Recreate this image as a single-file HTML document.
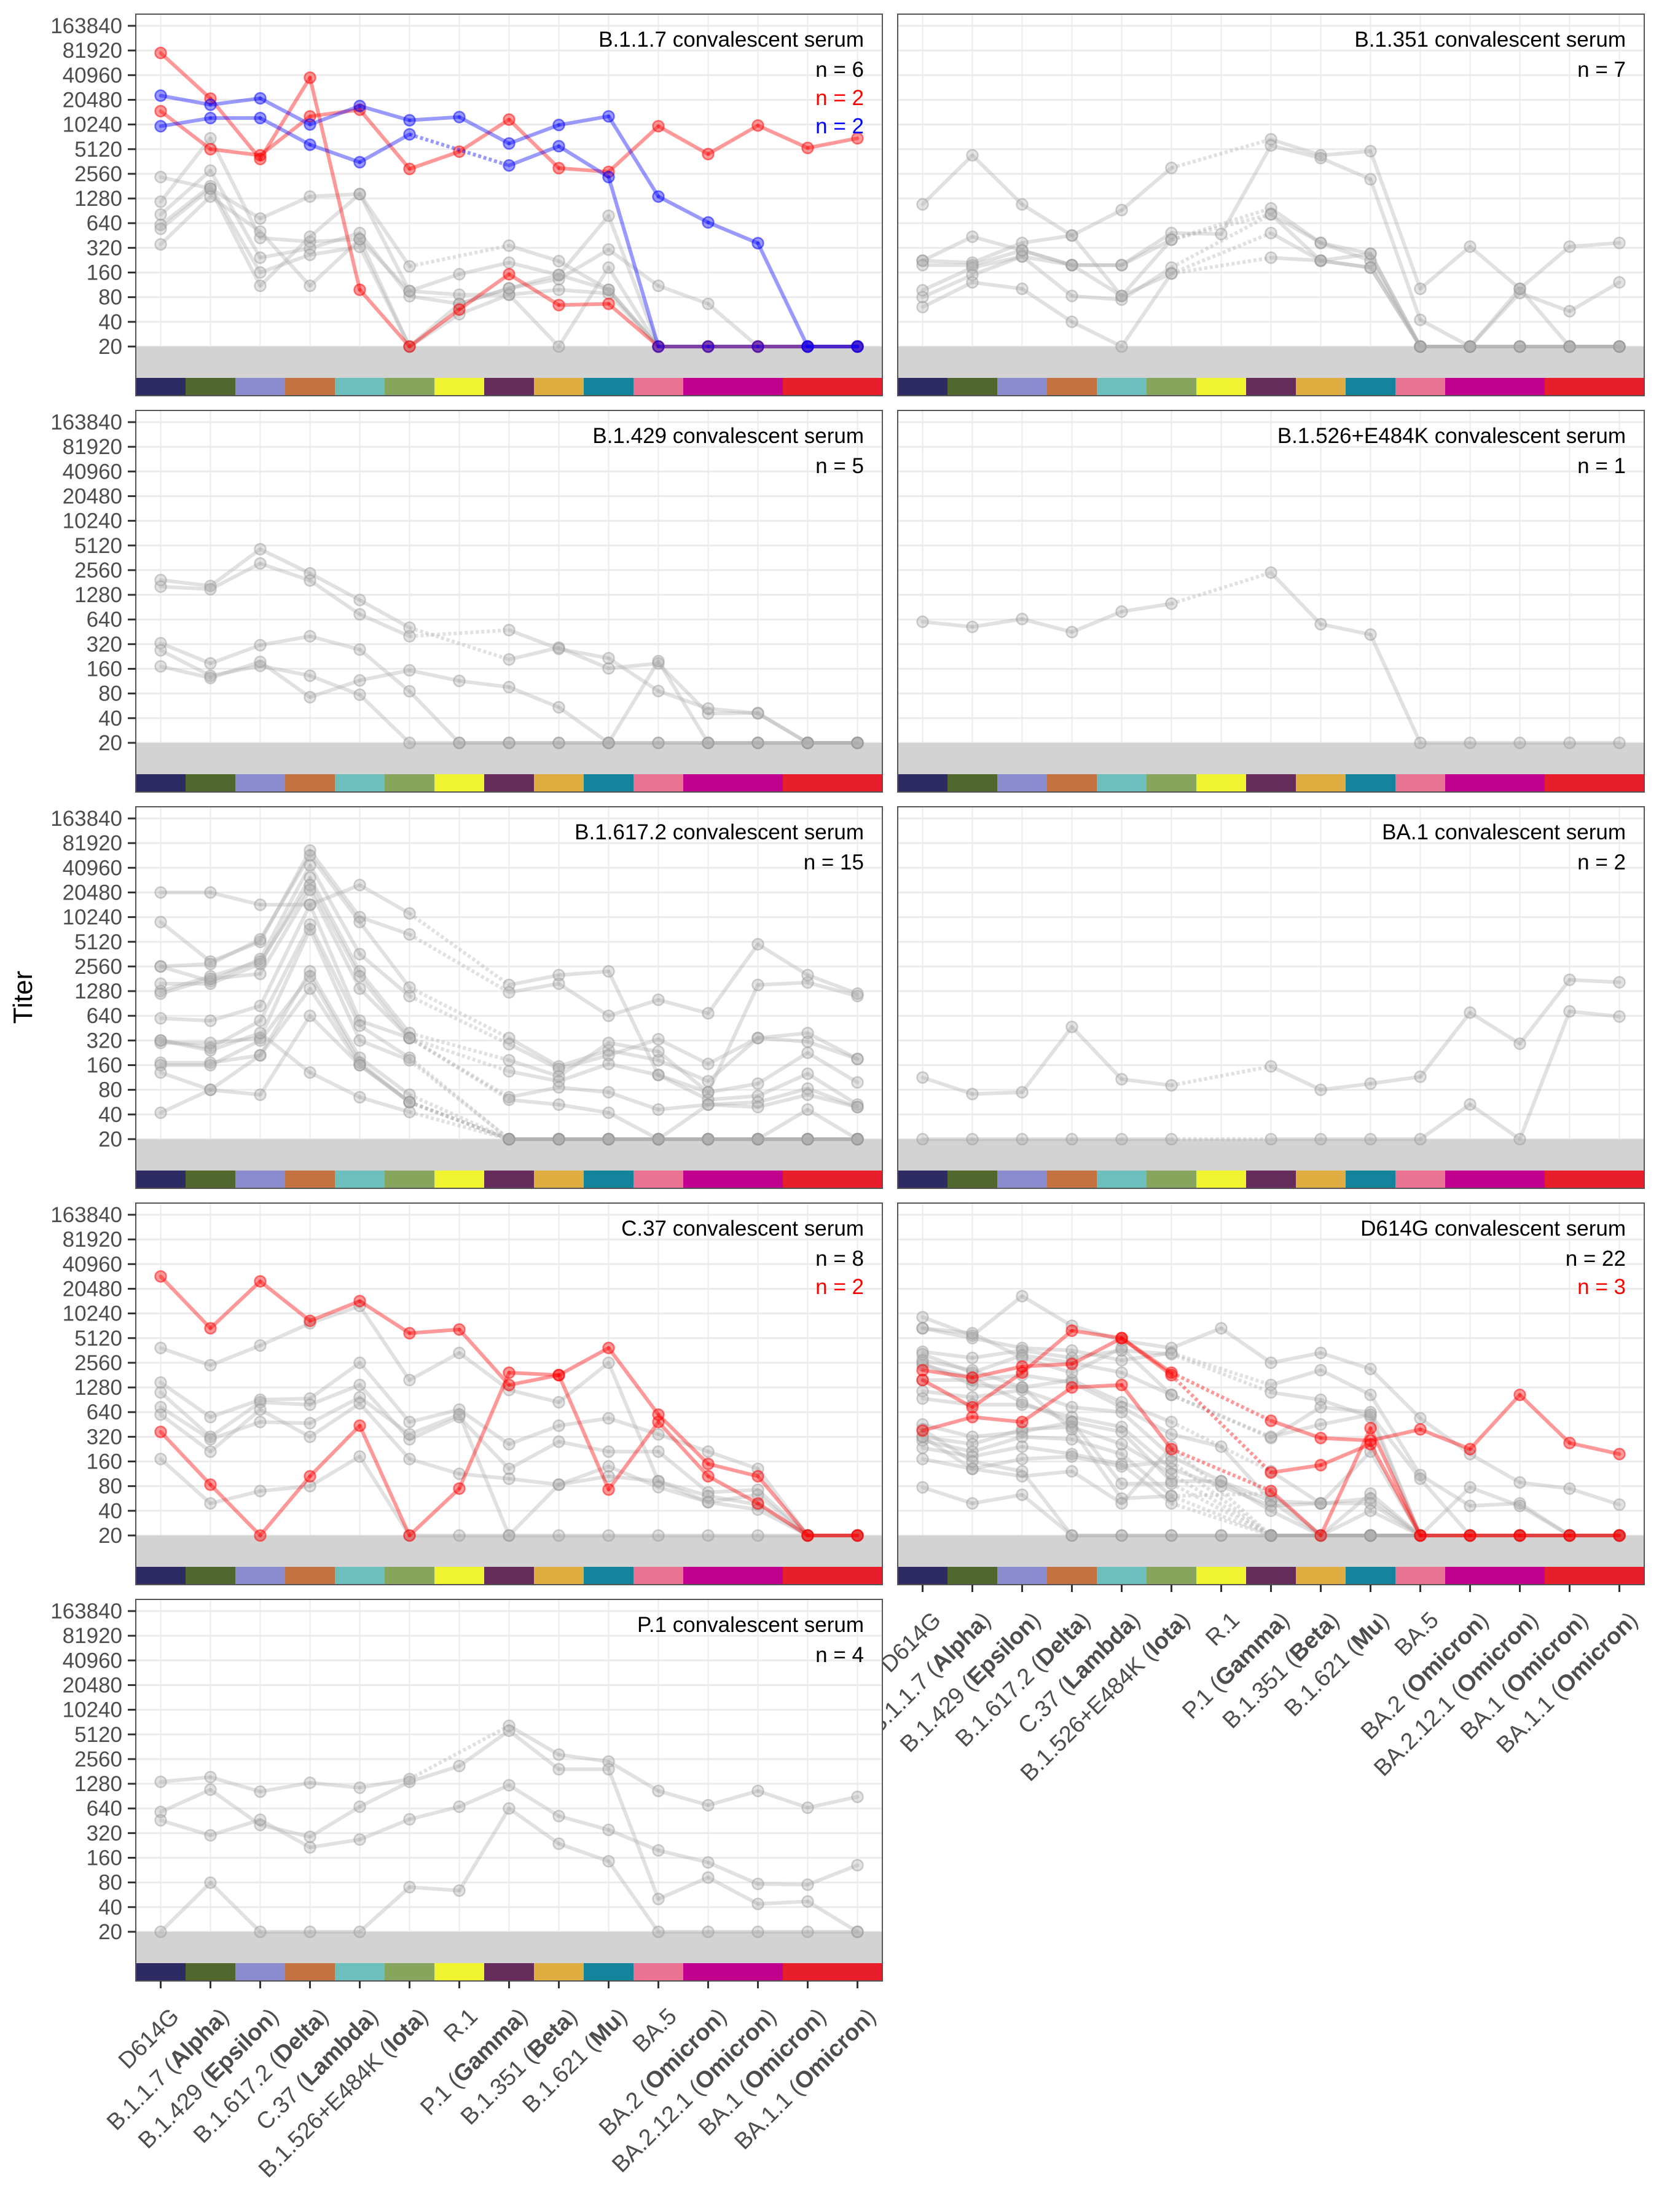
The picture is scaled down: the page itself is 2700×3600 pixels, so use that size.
<!DOCTYPE html>
<html><head><meta charset="utf-8">
<style>
html,body{margin:0;padding:0;background:#fff;}
svg{display:block;font-family:"Liberation Sans",Arial,sans-serif;}
</style></head>
<body>
<svg id="chart" width="2700" height="3600" viewBox="0 0 2700 3600" xmlns="http://www.w3.org/2000/svg"></svg>
<script>
// Data values are log2 steps above the detection limit (titer = 20 * 2^value); null = not tested
const categories = ["D614G","B.1.1.7","B.1.429","B.1.617.2","C.37","B.1.526+E484K","R.1","P.1","B.1.351","B.1.621","BA.5","BA.2","BA.2.12.1","BA.1","BA.1.1"];
const categoryNicknames = ["","Alpha","Epsilon","Delta","Lambda","Iota","","Gamma","Beta","Mu","","Omicron","Omicron","Omicron","Omicron"];
const categoryColors = ["#2d2a64","#50672e","#8a8ccf","#c37240","#6dbfbe","#88a55e","#eff42f","#662c5c","#e0ad41","#13849b","#ea7393","#c2008f","#c2008f","#e81f2a","#e81f2a"];
const yTickLabels = ["20","40","80","160","320","640","1280","2560","5120","10240","20480","40960","81920","163840"];

// B.1.1.7 panel
const b117Red1 = [11.9,10.05,7.6,10.9,2.3,0,1.5,2.93,1.68,1.73,0,0,0,0,0];
const b117Red2 = [9.54,8.0,7.75,9.33,9.6,7.2,7.9,9.2,7.23,7.08,8.93,7.8,8.96,8.05,8.44];
const b117Blue1 = [10.17,9.8,10.06,9.0,9.75,9.17,9.3,8.23,8.98,9.33,6.08,5.03,4.19,0,0];
const b117Blue2 = [8.93,9.26,9.26,8.18,7.47,8.6,null,7.34,8.12,6.87,0,0,0,0,0];
const b117Gray1 = [6.87,6.4,5.19,6.08,6.18,3.25,null,4.09,3.46,2.3,0,0,0,0,0];
const b117Gray2 = [5.87,8.44,4.4,4.25,4.35,2.25,2.93,3.4,2.9,5.3,0,0,0,0,0];
const b117Gray3 = [5.35,7.13,3.6,3.98,4.6,2.04,1.73,2.36,2.73,3.93,2.46,1.73,0,0,0];
const b117Gray4 = [4.93,6.5,3.0,3.72,4.04,0,1.31,2.1,0,3.2,0,0,0,0,0];
const b117Gray5 = [4.77,6.4,2.46,4.45,6.18,2.25,2.1,2.1,2.3,2.15,0,0,0,0,0];
const b117Gray6 = [4.14,6.08,4.66,2.46,4.35,0,1.73,2.36,2.9,2.3,0,0,0,0,0];

// B.1.351 panel
const b1351Gray1 = [5.76,7.75,5.76,4.5,5.53,7.24,null,8.4,7.75,7.92,2.34,4.05,2.34,4.05,4.2];
const b1351Gray2 = [3.48,4.45,3.9,3.3,3.3,4.6,4.56,8.15,7.64,6.78,1.08,0,2.17,1.43,2.6];
const b1351Gray3 = [3.48,3.4,4.2,4.5,2.05,4.33,null,5.6,4.2,3.76,0,0,0,0,0];
const b1351Gray4 = [2.28,3.2,3.65,2.05,1.9,3.2,null,5.36,4.2,3.48,0,0,0,0,0];
const b1351Gray5 = [2.0,2.9,3.65,3.3,2.05,2.96,null,4.6,3.48,3.2,0,0,0,0,0];
const b1351Gray6 = [1.6,2.6,2.34,1.0,0,2.96,null,3.6,3.48,3.2,0,0,0,0,0];
const b1351Gray7 = [3.3,3.3,3.9,3.3,3.3,4.33,null,5.36,3.48,3.76,0,0,2.34,0,0];

// B.1.429 panel
const b1429Gray1 = [6.6,6.36,7.85,6.87,5.79,4.67,null,3.38,3.86,3.02,3.22,1.19,1.21,0,0];
const b1429Gray2 = [6.33,6.23,7.27,6.58,5.21,4.32,null,4.57,3.81,3.43,2.1,1.39,1.19,0,0];
const b1429Gray3 = [4.04,3.22,3.96,4.32,3.78,2.09,0,0,0,0,0,0,0,0,0];
const b1429Gray4 = [3.75,2.72,3.12,2.72,1.95,0,0,0,0,0,0,0,0,0,0];
const b1429Gray5 = [3.1,2.63,3.28,1.85,2.53,2.94,2.51,2.26,1.44,0,3.31,0,0,0,0];

// B.1.526+E484K panel
const b1526Gray1 = [4.91,4.7,5.02,4.49,5.32,5.64,null,6.9,4.81,4.39,0,0,0,0,0];

// B.1.617.2 panel
const deltaGray1 = [10.0,10.0,9.5,9.5,10.3,9.15,null,6.25,6.65,6.8,2.6,1.9,6.25,6.35,5.8];
const deltaGray2 = [8.8,7.2,8.0,11.7,9.0,8.3,null,5.95,6.3,5.0,5.65,5.1,7.9,6.65,5.9];
const deltaGray3 = [7.0,7.1,8.1,11.5,8.8,6.15,null,4.1,2.95,3.6,3.2,2.35,4.1,4.3,3.25];
const deltaGray4 = [7.0,6.4,7.3,11.1,7.5,5.8,null,3.85,2.85,3.4,4.05,3.05,4.1,3.95,3.25];
const deltaGray5 = [6.3,6.3,7.1,10.6,6.8,4.3,null,3.2,2.55,3.9,3.55,1.9,2.25,3.5,2.3];
const deltaGray6 = [6.0,6.6,7.2,10.3,6.6,4.1,null,2.75,2.35,3.05,2.6,1.6,1.75,2.65,1.4];
const deltaGray7 = [5.9,6.5,6.7,10.1,6.1,4.1,null,1.7,2.1,1.9,1.2,1.4,1.5,2.05,1.3];
const deltaGray8 = [4.9,4.8,5.4,9.5,4.8,4.1,null,1.6,1.4,1.07,0,1.4,1.3,1.8,1.3];
const deltaGray9 = [4.0,3.7,4.8,8.7,4.6,3.3,null,0,0,0,0,0,0,1.2,0];
const deltaGray10 = [3.9,3.9,4.1,8.5,4.0,3.2,null,0,0,0,0,0,0,0,0];
const deltaGray11 = [3.1,3.1,3.4,6.8,3.3,1.8,null,0,0,0,0,0,0,0,0];
const deltaGray12 = [3.0,3.0,4.0,6.6,3.1,1.5,null,0,0,0,0,0,0,0,0];
const deltaGray13 = [2.7,2.0,1.8,5.0,3.0,1.5,null,0,0,0,0,0,0,0,0];
const deltaGray14 = [1.07,2.0,3.4,6.1,3.0,1.5,null,0,0,0,0,0,0,0,0];
const deltaGray15 = [4.0,3.6,4.3,2.7,1.7,1.1,null,0,0,0,0,0,0,0,0];

// BA.1 panel
const ba1Gray1 = [2.5,1.83,1.9,4.55,2.43,2.18,null,2.95,2.0,2.25,2.53,5.13,3.87,6.46,6.36];
const ba1Gray2 = [0,0,0,0,0,0,null,0,0,0,0,1.41,0,5.18,4.97];

// C.37 panel
const c37Red1 = [10.5,8.4,10.3,8.7,9.5,8.2,8.35,6.1,6.5,7.6,4.9,2.9,2.4,0,0];
const c37Red2 = [4.2,2.06,0,2.4,4.45,0,1.9,6.6,6.5,1.86,4.6,2.4,1.3,0,0];
const c37Gray1 = [7.6,6.9,7.7,8.6,9.3,6.3,7.4,5.9,5.4,7.0,2.2,1.35,1.65,0,0];
const c37Gray2 = [6.2,4.8,5.5,5.55,7.0,4.6,5.1,3.7,4.45,4.75,4.1,3.4,2.7,0,0];
const c37Gray3 = [5.8,4.0,5.4,5.3,6.1,3.9,4.8,2.7,3.8,3.4,3.4,1.75,1.85,0,0];
const c37Gray4 = [5.2,3.9,4.6,4.55,5.6,4.1,4.9,0,2.06,2.4,2.2,1.6,1.25,0,0];
const c37Gray5 = [4.9,3.4,5.1,4.0,5.35,3.1,2.5,2.3,2.06,2.8,1.96,1.35,1.05,0,0];
const c37Gray6 = [3.1,1.3,1.8,2.0,3.2,0,0,0,0,0,0,0,0,0,0];

// D614G panel
const d614gRed1 = [6.7,6.4,6.85,6.95,8.0,6.6,null,4.65,3.95,3.85,4.3,3.5,5.7,3.75,3.3];
const d614gRed2 = [6.3,5.2,6.6,8.3,8.0,6.5,null,2.55,2.85,3.7,0,0,0,0,0];
const d614gRed3 = [4.25,4.8,4.6,6.0,6.1,3.5,null,1.8,0,4.35,0,0,0,0,0];
const d614gGray1 = [8.85,8.1,9.7,8.5,7.9,7.6,8.4,7.0,7.4,6.75,4.75,3.3,2.15,1.9,1.25];
const d614gGray2 = [8.4,8.0,7.6,7.5,7.1,7.4,null,6.1,6.7,5.7,2.45,1.2,1.3,0,0];
const d614gGray3 = [7.45,7.2,7.5,7.2,7.5,7.35,null,5.8,5.5,4.8,0,1.95,1.2,0,0];
const d614gGray4 = [7.35,6.6,7.3,7.0,6.6,5.7,null,3.95,5.2,5.0,0,0,0,0,0];
const d614gGray5 = [7.0,6.1,6.0,6.3,5.4,4.6,null,2.6,1.3,3.4,0,0,0,0,0];
const d614gGray6 = [6.3,6.3,6.5,6.2,5.2,4.1,3.6,1.4,0,1.7,0,0,0,0,0];
const d614gGray7 = [5.85,5.6,5.9,5.2,5.0,3.2,2.2,1.4,1.3,1.5,0,0,0,0,0];
const d614gGray8 = [5.55,5.3,5.3,4.8,4.4,2.7,2.0,1.2,1.3,1.3,0,0,0,0,0];
const d614gGray9 = [4.5,4.0,4.2,4.6,4.2,2.2,2.2,1.0,0,1.0,0,0,0,0,0];
const d614gGray10 = [4.0,3.7,4.3,4.4,3.7,2.5,null,0,0,0,0,0,0,0,0];
const d614gGray11 = [3.85,3.4,4.0,3.9,3.3,1.6,null,0,0,0,0,0,0,0,0];
const d614gGray12 = [3.55,3.2,3.6,3.3,2.9,1.3,null,0,0,0,0,0,0,0,0];
const d614gGray13 = [3.1,2.7,3.1,3.2,2.8,3.0,null,0,0,0,0,0,0,0,0];
const d614gGray14 = [1.95,1.3,1.65,0,0,0,0,0,0,0,0,0,0,0,0];
const d614gGray15 = [6.9,6.4,5.4,4.6,2.1,2.1,null,0,0,0,0,0,0,0,0];
const d614gGray16 = [7.1,6.7,6.0,4.3,1.5,1.6,null,1.7,0,0,0,0,0,0,0];
const d614gGray17 = [4.0,2.7,2.4,2.6,1.3,3.6,null,0,0,0,0,0,0,0,0];
const d614gGray18 = [4.3,3.0,2.6,0,0,0,0,0,0,0,0,0,0,0,0];
const d614gGray19 = [8.4,8.2,7.2,6.6,7.6,5.7,null,4.0,4.5,4.9,2.3,0,0,0,0];

// P.1 panel
const p1Gray1 = [6.08,6.27,5.68,6.04,5.84,6.19,null,8.35,7.18,6.9,5.71,5.13,5.71,5.03,5.47];
const p1Gray2 = [4.86,5.76,4.33,3.85,5.07,6.08,6.72,8.15,6.59,6.59,1.33,2.2,1.13,1.23,0];
const p1Gray3 = [4.52,3.91,4.54,3.42,3.74,4.56,5.07,5.94,4.69,4.13,3.3,2.81,1.94,1.91,2.7];
const p1Gray4 = [0,1.99,0,0,0,1.81,1.67,5.0,3.57,2.86,0,0,0,0,0];

const panels = [
 {id:"b117", title:"B.1.1.7 convalescent serum", col:0,row:0, counts:[["n = 6","#000"],["n = 2","#ff0000"],["n = 2","#0000ff"]],
  gray:[b117Gray1,b117Gray2,b117Gray3,b117Gray4,b117Gray5,b117Gray6], red:[b117Red1,b117Red2], blue:[b117Blue1,b117Blue2]},
 {id:"b1351", title:"B.1.351 convalescent serum", col:1,row:0, counts:[["n = 7","#000"]],
  gray:[b1351Gray1,b1351Gray2,b1351Gray3,b1351Gray4,b1351Gray5,b1351Gray6,b1351Gray7], red:[], blue:[]},
 {id:"b1429", title:"B.1.429 convalescent serum", col:0,row:1, counts:[["n = 5","#000"]],
  gray:[b1429Gray1,b1429Gray2,b1429Gray3,b1429Gray4,b1429Gray5], red:[], blue:[]},
 {id:"b1526", title:"B.1.526+E484K convalescent serum", col:1,row:1, counts:[["n = 1","#000"]],
  gray:[b1526Gray1], red:[], blue:[]},
 {id:"b16172", title:"B.1.617.2 convalescent serum", col:0,row:2, counts:[["n = 15","#000"]],
  gray:[deltaGray1,deltaGray2,deltaGray3,deltaGray4,deltaGray5,deltaGray6,deltaGray7,deltaGray8,deltaGray9,deltaGray10,deltaGray11,deltaGray12,deltaGray13,deltaGray14,deltaGray15], red:[], blue:[]},
 {id:"ba1", title:"BA.1 convalescent serum", col:1,row:2, counts:[["n = 2","#000"]],
  gray:[ba1Gray1,ba1Gray2], red:[], blue:[]},
 {id:"c37", title:"C.37 convalescent serum", col:0,row:3, counts:[["n = 8","#000"],["n = 2","#ff0000"]],
  gray:[c37Gray1,c37Gray2,c37Gray3,c37Gray4,c37Gray5,c37Gray6], red:[c37Red1,c37Red2], blue:[]},
 {id:"d614g", title:"D614G convalescent serum", col:1,row:3, counts:[["n = 22","#000"],["n = 3","#ff0000"]], xlabels:true,
  gray:[d614gGray1,d614gGray2,d614gGray3,d614gGray4,d614gGray5,d614gGray6,d614gGray7,d614gGray8,d614gGray9,d614gGray10,d614gGray11,d614gGray12,d614gGray13,d614gGray14,d614gGray15,d614gGray16,d614gGray17,d614gGray18,d614gGray19], red:[d614gRed1,d614gRed2,d614gRed3], blue:[]},
 {id:"p1", title:"P.1 convalescent serum", col:0,row:4, counts:[["n = 4","#000"]], xlabels:true,
  gray:[p1Gray1,p1Gray2,p1Gray3,p1Gray4], red:[], blue:[]}
];

const NS = "http://www.w3.org/2000/svg";
const svg = document.getElementById("chart");
const COL_LEFT = [221, 1461], PW = 1215, PH = 621, ROW_TOP = [23, 668, 1313, 1958, 2603];
const STEP = 40.15, CW = PW / 15;
function mk(tag, attrs, parent){ const e=document.createElementNS(NS,tag); for(const k in attrs) e.setAttribute(k,attrs[k]); (parent||svg).appendChild(e); return e; }
function xScale(col, i){ return COL_LEFT[col] + CW*(i+0.5); }
function yScale(row, v){ return ROW_TOP[row] + 19 + (13 - v)*STEP; }

const styles = {
 gray:{line:"rgba(175,175,175,0.38)", fill:"rgba(175,175,175,0.35)", stroke:"rgba(150,150,150,0.45)", w:6},
 red:{line:"rgba(255,0,0,0.4)", fill:"rgba(255,0,0,0.4)", stroke:"rgba(255,0,0,0.5)", w:6},
 blue:{line:"rgba(0,0,255,0.4)", fill:"rgba(0,0,255,0.4)", stroke:"rgba(0,0,255,0.5)", w:6}
};

function drawSeries(g, p, vals, kind, idx){
  const st = styles[kind];
  const sg = mk("g", {}, g);
  
  
  let prev = null, gap = false;
  vals.forEach((v,i)=>{
    if(v===null){ if(prev) gap=true; return; }
    const x = xScale(p.col,i), y = yScale(p.row,v);
    if(prev){
      const ln = mk("line", {x1:prev[0],y1:prev[1],x2:x,y2:y,stroke:st.line,"stroke-width":st.w,"stroke-linecap":gap?"butt":"round"}, sg);
      if(gap) ln.setAttribute("stroke-dasharray","5 4");
      
      
    }
    prev=[x,y]; gap=false;
  });
  vals.forEach((v,i)=>{
    if(v===null) return;
    const c = mk("circle", {cx:xScale(p.col,i), cy:yScale(p.row,v), r:9, fill:st.fill, stroke:st.stroke, "stroke-width":2.5}, sg);
    
    
  });
}

// y axis title
const yt = mk("text", {x:0,y:0,transform:"translate(52,1623) rotate(-90)","text-anchor":"middle","font-size":44,fill:"#000"});
yt.textContent = "Titer";



panels.forEach(p=>{
  const L = COL_LEFT[p.col], T = ROW_TOP[p.row];
  const g = mk("g", {});
  
  
  mk("rect", {x:L,y:T,width:PW,height:PH,fill:"#fff"}, g);
  for(let k=0;k<14;k++){ const y=yScale(p.row,k); mk("line",{x1:L,x2:L+PW,y1:y,y2:y,stroke:"#ebebeb","stroke-width":3},g); }
  for(let i=0;i<15;i++){ const x=xScale(p.col,i); mk("line",{x1:x,x2:x,y1:T,y2:T+592,stroke:"#ebebeb","stroke-width":2},g); }
  const band = mk("rect",{x:L,y:yScale(p.row,0),width:PW,height:T+592-yScale(p.row,0),fill:"#d3d3d3"},g);
  
  
  categoryColors.forEach((c,i)=>{
    const r = mk("rect",{x:L+CW*i,y:T+592,width:CW+0.5,height:29,fill:c},g);
    
    
  });
  p.gray.forEach((s,i)=>drawSeries(g,p,s,"gray",i));
  p.red.forEach((s,i)=>drawSeries(g,p,s,"red",i));
  p.blue.forEach((s,i)=>drawSeries(g,p,s,"blue",i));
  mk("rect",{x:L,y:T,width:PW,height:PH,fill:"none",stroke:"#555","stroke-width":2},g);
  const tt = mk("text",{x:L+PW-30,y:T+53,"text-anchor":"end","font-size":35,fill:"#000"},g);
  tt.textContent = p.title;
  
  
  p.counts.forEach((c,i)=>{
    const t = mk("text",{x:L+PW-30,y:T+102+i*46,"text-anchor":"end","font-size":35,fill:c[1]},g);
    t.textContent = c[0];
    
    
  });
  if(p.col===0){
    yTickLabels.forEach((lab,k)=>{
      const y=yScale(p.row,k);
      mk("line",{x1:208,x2:L,y1:y,y2:y,stroke:"#333","stroke-width":3},g);
      const t = mk("text",{x:199,y:y+12,"text-anchor":"end","font-size":35,fill:"#4d4d4d"},g);
      t.textContent = lab;
      
      
    });
  }
  if(p.xlabels){
    const B = T+PH;
    categories.forEach((c,i)=>{
      const x = xScale(p.col,i);
      mk("line",{x1:x,x2:x,y1:B,y2:B+12,stroke:"#333","stroke-width":3},g);
      const t = mk("text",{x:0,y:0,transform:"translate("+(x+32)+","+(B+60)+") rotate(-45)","text-anchor":"end","font-size":38,fill:"#4d4d4d"},g);
      
      
      const a = mk("tspan",{},t); a.textContent = c;
      if(categoryNicknames[i]){
        const b = mk("tspan",{},t); b.textContent = " (";
        const n = mk("tspan",{"font-weight":"bold"},t); n.textContent = categoryNicknames[i];
        const e = mk("tspan",{},t); e.textContent = ")";
      }
    });
  }
});
</script>
</body></html>
